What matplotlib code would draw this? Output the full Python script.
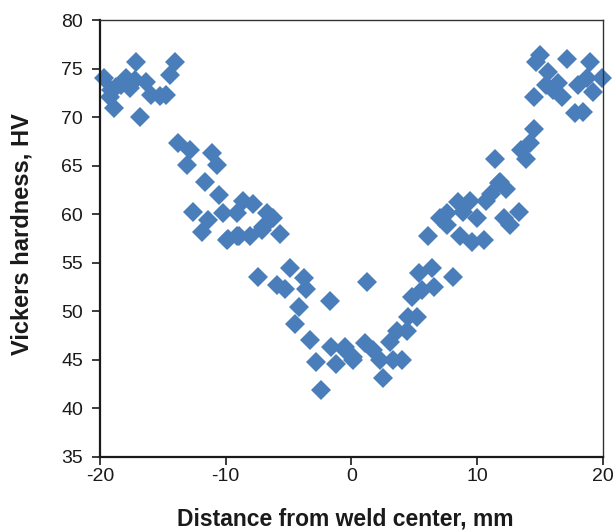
import matplotlib
matplotlib.use('Agg')
import matplotlib.pyplot as plt

plt.rcParams['font.family'] = ['Liberation Sans', 'DejaVu Sans']
plt.rcParams['axes.unicode_minus'] = False

# distance from weld center (mm) and Vickers hardness (HV)
distance = [
    -19.7, -19.1, -18.9, -19.2, -18.3, -17.9, -17.6, -17.1, -17.2, -16.8,
    -16.3, -15.9, -15.2, -14.7, -14.4, -14.0, -18.7,
    -13.8, -12.8, -13.1, -11.1, -10.7, -11.6, -10.5, -12.6, -11.4, -11.9,
    -10.2, -9.1, -8.6, -7.8, -9.9, -9.1, -8.1, -7.0, -6.7,
    -9.8, -8.9, -6.2, -7.1, -5.7,
    -7.4, -4.9, -5.9, -5.3, -3.8, -3.6, -1.7, -4.2, -4.5, -3.3, -2.8,
    -1.6, -2.4, -1.2, -0.5, 0.1,
    1.2, -0.5, 1.1, 1.7, 0.1, 2.3, 3.1, 3.6, 4.4, 3.3, 4.0, 2.5,
    4.5, 5.2, 4.8, 5.6, 6.6, 5.4, 6.4, 8.1,
    6.1, 7.0, 7.6, 7.6, 8.5, 9.4, 8.9, 10.0, 8.6, 9.6, 10.5, 10.7,
    11.1, 11.7,
    11.4, 11.8, 12.3, 12.1, 12.6, 13.3, 13.5, 13.9, 14.2, 14.5,
    14.5, 14.7, 15.0, 15.6, 15.5, 16.0, 16.4, 16.7, 17.1, 17.8,
    18.4, 18.0, 18.7, 19.0, 19.2, 19.9,
]
hardness = [
    74.0, 72.8, 70.9, 72.1, 73.3, 74.0, 73.0, 75.7, 73.8, 70.0,
    73.6, 72.3, 72.2, 72.3, 74.3, 75.7, 73.1,
    67.3, 66.6, 65.1, 66.3, 65.1, 63.3, 62.0, 60.2, 59.4, 58.2,
    60.1, 60.1, 61.4, 61.1, 57.3, 57.7, 57.7, 58.7, 60.1,
    57.4, 57.7, 59.6, 58.4, 58.0,
    53.5, 54.4, 52.7, 52.3, 53.4, 52.3, 51.0, 50.4, 48.7, 47.0, 44.8,
    46.3, 41.9, 44.6, 46.3, 45.3,
    53.0, 46.0, 46.7, 46.0, 45.0, 45.0, 46.8, 48.0, 48.0, 45.0, 45.0, 43.1,
    49.4, 49.4, 51.5, 52.2, 52.5, 53.9, 54.4, 53.5,
    57.7, 59.6, 60.1, 58.9, 61.3, 61.4, 60.2, 59.6, 57.7, 57.1, 57.3, 61.4,
    62.1, 63.2,
    65.7, 63.3, 62.6, 59.6, 58.9, 60.2, 66.6, 65.7, 67.3, 68.8,
    72.1, 75.7, 76.4, 74.7, 73.3, 72.8, 73.5, 72.1, 76.0, 70.4,
    70.5, 73.3, 74.0, 75.7, 72.6, 74.0,
]

x_ticks = [-20, -10, 0, 10, 20]
y_ticks = [35, 40, 45, 50, 55, 60, 65, 70, 75, 80]

fig = plt.figure(figsize=(6.16, 5.31), dpi=100)
ax = fig.add_axes([0.162, 0.140, 0.817, 0.822])

ax.plot(distance, hardness, linestyle='none', marker='D', markersize=10,
        color='#4a7ebb', markeredgewidth=0, clip_on=False)

ax.set_xlim(-20, 20)
ax.set_ylim(35, 80)
ax.set_xticks(x_ticks)
ax.set_yticks(y_ticks)
ax.tick_params(direction='out', length=6, width=1.2, labelsize=14,
               colors='#1a1a1a')
ax.tick_params(axis='y', pad=6)
ax.tick_params(axis='x', pad=2)

for side in ['left', 'bottom']:
    ax.spines[side].set_linewidth(1.6)
    ax.spines[side].set_color('#1a1a1a')
for side in ['top', 'right']:
    ax.spines[side].set_linewidth(1.0)
    ax.spines[side].set_color('#333333')

fig.text(0.561, 0.0095, 'Distance from weld center, mm', fontsize=16.5,
         fontweight='bold', color='#1a1a1a', ha='center', va='baseline')
fig.text(0.036, 0.559, 'Vickers hardness, HV', fontsize=17, fontweight='bold',
         color='#1a1a1a', ha='center', va='center', rotation=90)

fig.savefig('out.png', dpi=100)
